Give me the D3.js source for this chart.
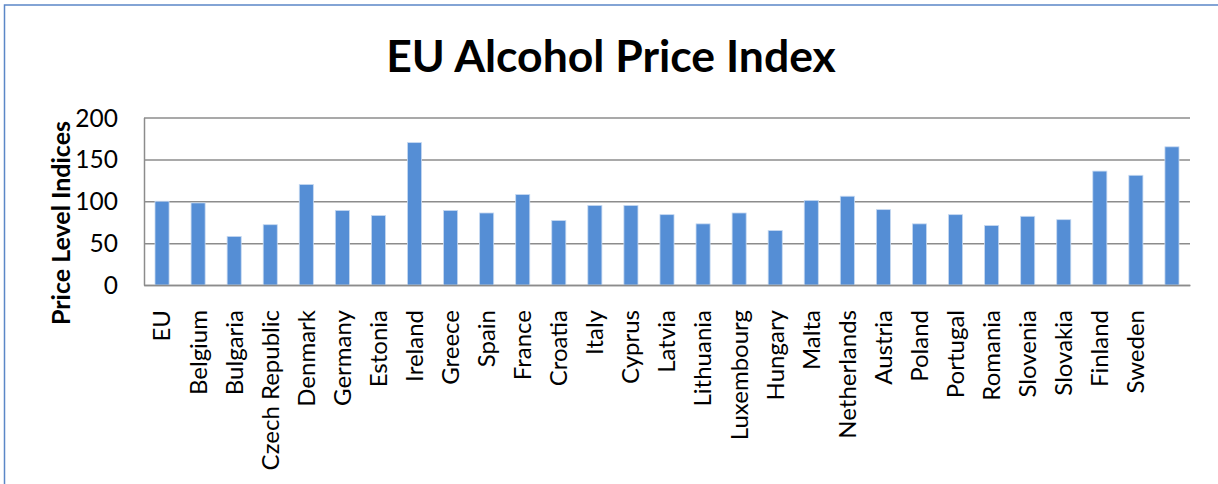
<!DOCTYPE html>
<html>
<head>
<meta charset="utf-8">
<script src="https://cdn.jsdelivr.net/npm/d3@7"></script>
<style>
  body { margin: 0; background: #fff; }
  svg text { font-family: Lato, "Open Sans", sans-serif; fill: #000; }
  .grid line { stroke: #8c8c8c; stroke-width: 1.5; }
  .grid .domain { display: none; }
  .axis .domain { stroke: #8c8c8c; stroke-width: 1.5; }
  .axis .tick line { display: none; }
</style>
</head>
<body>
<script>
// categories and values
var countries = ["EU", "Belgium", "Bulgaria", "Czech Republic", "Denmark", "Germany",
    "Estonia", "Ireland", "Greece", "Spain", "France", "Croatia", "Italy", "Cyprus",
    "Latvia", "Lithuania", "Luxembourg", "Hungary", "Malta", "Netherlands", "Austria",
    "Poland", "Portugal", "Romania", "Slovenia", "Slovakia", "Finland", "Sweden", "United Kingdom"];
// last bar has no visible label in the source
var hiddenLabels = ["United Kingdom"];
var priceIndex = [100, 98, 58, 72, 120, 89, 83, 170, 89, 86, 108, 77, 95, 95,
    84, 73, 86, 65, 101, 106, 90, 73, 84, 71, 82, 78, 136, 131, 165];
var yTicks = [0, 50, 100, 150, 200];

var W = 1218, H = 484;
var margin = {top: 117.5, right: 28, bottom: 199, left: 144},
    width = W - margin.left - margin.right,
    height = H - margin.top - margin.bottom;

var data = countries.map(function(c, i) { return {country: c, value: priceIndex[i]}; });

var svg = d3.select("body").append("svg")
    .attr("width", W)
    .attr("height", H);

// outer frame (left and top edges visible)
svg.append("path")
    .attr("d", "M4.5," + H + "V5H" + W)
    .attr("fill", "none")
    .attr("stroke", "#5b87c7")
    .attr("stroke-width", 1.5);

svg.append("text")
    .attr("x", 611)
    .attr("y", 72)
    .attr("text-anchor", "middle")
    .style("font-size", "44.5px")
    .style("font-weight", "bold")
    .text("EU Alcohol Price Index");

var g = svg.append("g")
    .attr("transform", "translate(" + margin.left + "," + margin.top + ")");

var x = d3.scaleBand().domain(countries).range([0, width]).paddingInner(0.61).paddingOuter(0.305);
var y = d3.scaleLinear().domain([0, 200]).range([height, 0]);

// gridlines
g.append("g")
    .attr("class", "grid")
    .call(d3.axisLeft(y).tickValues(yTicks).tickSize(-width).tickFormat(""));

g.selectAll(".bar")
    .data(data)
    .enter().append("rect")
    .attr("class", "bar")
    .attr("x", function(d) { return x(d.country); })
    .attr("y", function(d) { return y(d.value); })
    .attr("width", x.bandwidth())
    .attr("height", function(d) { return height - y(d.value); })
    .attr("fill", "#558ed5")
    .attr("stroke", "#c6d9f1")
    .attr("stroke-width", 0.8);

// y axis
var yAxis = g.append("g")
    .attr("class", "axis")
    .call(d3.axisLeft(y).tickValues(yTicks).tickSize(0).tickPadding(26));
yAxis.selectAll("text").style("font-size", "24.5px").attr("dy", "0.35em");

// x axis
var xAxis = g.append("g")
    .attr("class", "axis")
    .attr("transform", "translate(0," + height + ")")
    .call(d3.axisBottom(x).tickSize(0).tickFormat(function(d) {
        return hiddenLabels.indexOf(d) >= 0 ? "" : d;
    }));
xAxis.selectAll("text")
    .style("font-size", "24px")
    .attr("text-anchor", "end")
    .attr("transform", "rotate(-90)")
    .attr("x", -25)
    .attr("y", 0)
    .attr("dy", "0.35em");

svg.append("text")
    .attr("transform", "translate(70," + 223 + ") rotate(-90)")
    .attr("text-anchor", "middle")
    .style("font-size", "25px")
    .style("font-weight", "bold")
    .text("Price Level Indices");
</script>
</body>
</html>
